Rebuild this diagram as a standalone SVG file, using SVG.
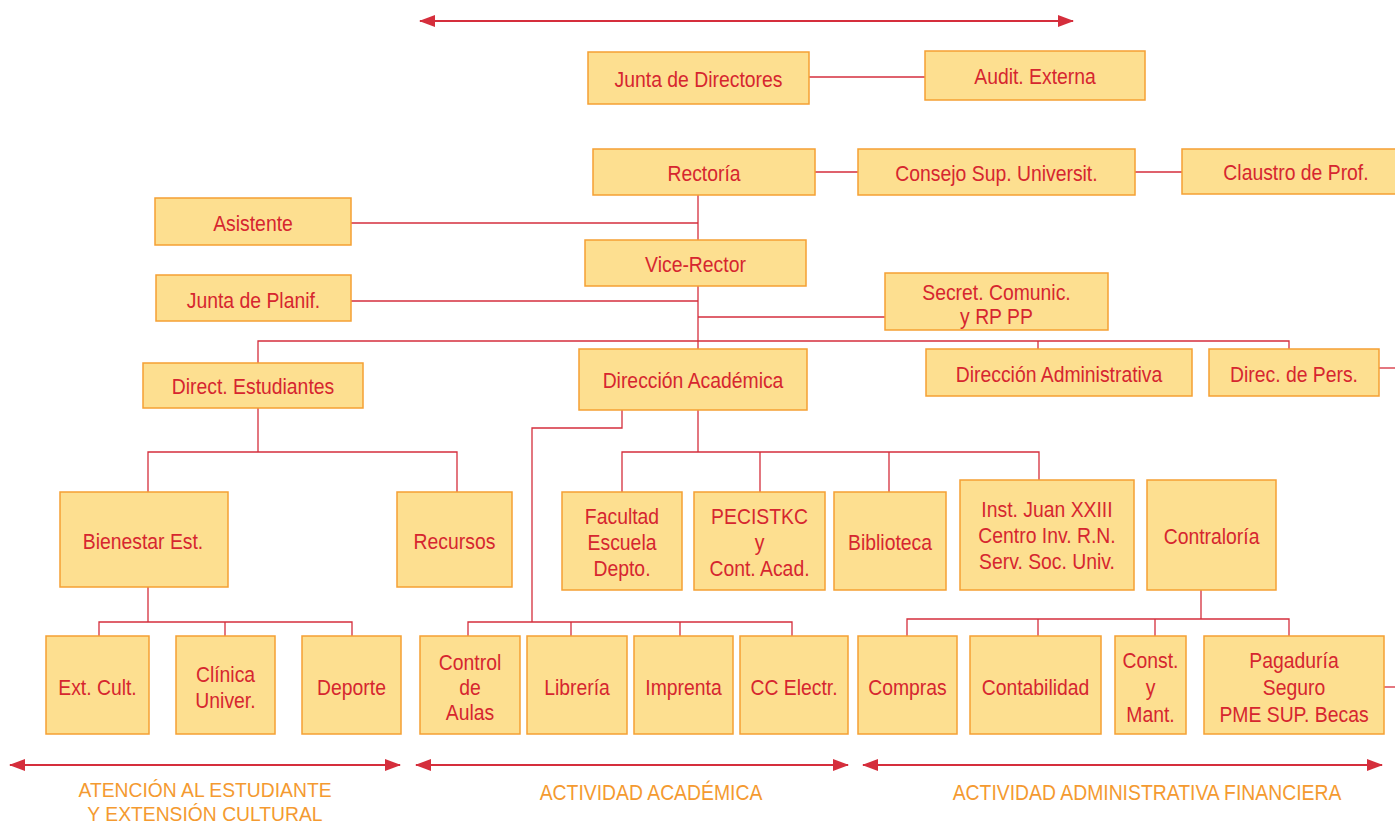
<svg xmlns="http://www.w3.org/2000/svg" width="1395" height="823" viewBox="0 0 1395 823">
<style>
.n rect{fill:#FDDF90;stroke:#F5A033;stroke-width:1.5}
.n text{fill:#D6262F;font-family:"Liberation Sans",Arial,sans-serif;font-size:22px;text-anchor:middle}
.n text,.lbl{transform-box:fill-box;transform-origin:center;transform:scaleX(0.88)}
.c path{fill:none;stroke:#D52E3C;stroke-width:1.3}
.a{stroke:#D52E3C;stroke-width:2;fill:none}
.lbl{fill:#F49A30;font-family:"Liberation Sans",Arial,sans-serif;font-size:22px;text-anchor:middle}
text.lbl2{font-size:21px;transform:scaleX(0.92)}
</style>
<defs>
<marker id="ah" viewBox="0 0 16 12" refX="15" refY="6" markerWidth="16" markerHeight="12" markerUnits="userSpaceOnUse" orient="auto-start-reverse">
<path d="M0,0 L16,6 L0,12 Z" fill="#D52E3C"/>
</marker>
</defs>
<rect width="1395" height="823" fill="#fff"/>
<g id="connectors" class="c">
<path d="M809,77 H925"/>
<path d="M815,172 H858 M1135,172 H1182"/>
<path d="M698,195 V240"/>
<path d="M351,223 H698"/>
<path d="M698,286 V349"/>
<path d="M351,301 H698"/>
<path d="M698,317 H885"/>
<path d="M258,363 V341 H1289 V349 M1038,341 V349"/>
<path d="M1379,368 H1395"/>
<path d="M258,408 V452 M148,492 V452 H457 V492"/>
<path d="M148,587 V622 M99,636 V622 H352 V636 M225,622 V636"/>
<path d="M622,410 V428 H532 V622 M468,636 V622 H792 V636 M571,622 V636 M680,622 V636"/>
<path d="M698,410 V452 M622,492 V452 H1039 V480 M760,452 V492 M889,452 V492"/>
<path d="M1201,590 V619 M907,636 V619 H1289 V636 M1038,619 V636 M1155,619 V636"/>
<path d="M1384,687 H1395"/>
</g>
<g id="arrows">
<path class="a" d="M420,21 H1073" marker-start="url(#ah)" marker-end="url(#ah)"/>
<path class="a" d="M10,765 H400" marker-start="url(#ah)" marker-end="url(#ah)"/>
<path class="a" d="M416,765 H848" marker-start="url(#ah)" marker-end="url(#ah)"/>
<path class="a" d="M863,765 H1382" marker-start="url(#ah)" marker-end="url(#ah)"/>
</g>
<g id="n-junta" class="n"><rect x="588" y="52" width="221" height="52"/><text x="698.5" y="87">Junta de Directores</text></g>
<g id="n-audit" class="n"><rect x="925" y="51" width="220" height="49"/><text x="1035" y="84">Audit. Externa</text></g>
<g id="n-rectoria" class="n"><rect x="593" y="149" width="222" height="46"/><text x="704" y="181">Rectoría</text></g>
<g id="n-consejo" class="n"><rect x="858" y="149" width="277" height="46"/><text x="996.5" y="181">Consejo Sup. Universit.</text></g>
<g id="n-claustro" class="n"><rect x="1182" y="149" width="220" height="45"/><text x="1296" y="180">Claustro de Prof.</text></g>
<g id="n-asistente" class="n"><rect x="155" y="198" width="196" height="47"/><text x="253" y="231">Asistente</text></g>
<g id="n-vicerector" class="n"><rect x="585" y="240" width="221" height="46"/><text x="695.5" y="272">Vice-Rector</text></g>
<g id="n-planif" class="n"><rect x="156" y="275" width="195" height="46"/><text x="253.5" y="308">Junta de Planif.</text></g>
<g id="n-secret" class="n"><rect x="885" y="273" width="223" height="57"/><text x="996.5" y="300">Secret. Comunic.</text><text x="996.5" y="324">y RP PP</text></g>
<g id="n-estud" class="n"><rect x="143" y="363" width="220" height="45"/><text x="253" y="394">Direct. Estudiantes</text></g>
<g id="n-acad" class="n"><rect x="579" y="349" width="228" height="61"/><text x="693" y="388">Dirección Académica</text></g>
<g id="n-admin" class="n"><rect x="926" y="349" width="266" height="47"/><text x="1059" y="382">Dirección Administrativa</text></g>
<g id="n-pers" class="n"><rect x="1209" y="349" width="170" height="47"/><text x="1294" y="382">Direc. de Pers.</text></g>
<g id="n-bienestar" class="n"><rect x="60" y="492" width="168" height="95"/><text x="143" y="549">Bienestar Est.</text></g>
<g id="n-recursos" class="n"><rect x="397" y="492" width="115" height="95"/><text x="454.5" y="549">Recursos</text></g>
<g id="n-facultad" class="n"><rect x="562" y="492" width="120" height="98"/><text x="622" y="524">Facultad</text><text x="622" y="550">Escuela</text><text x="622" y="576">Depto.</text></g>
<g id="n-pecis" class="n"><rect x="694" y="492" width="131" height="98"/><text x="759.5" y="524">PECISTKC</text><text x="759.5" y="550">y</text><text x="759.5" y="576">Cont. Acad.</text></g>
<g id="n-biblio" class="n"><rect x="834" y="492" width="112" height="98"/><text x="890" y="550">Biblioteca</text></g>
<g id="n-inst" class="n"><rect x="960" y="480" width="174" height="110"/><text x="1047" y="517">Inst. Juan XXIII</text><text x="1047" y="543">Centro Inv. R.N.</text><text x="1047" y="569">Serv. Soc. Univ.</text></g>
<g id="n-contra" class="n"><rect x="1147" y="480" width="129" height="110"/><text x="1211.5" y="544">Contraloría</text></g>
<g id="n-extcult" class="n"><rect x="46" y="636" width="103" height="98"/><text x="97.5" y="695">Ext. Cult.</text></g>
<g id="n-clinica" class="n"><rect x="176" y="636" width="99" height="98"/><text x="225.5" y="682">Clínica</text><text x="225.5" y="708">Univer.</text></g>
<g id="n-deporte" class="n"><rect x="302" y="636" width="99" height="98"/><text x="351.5" y="695">Deporte</text></g>
<g id="n-control" class="n"><rect x="420" y="636" width="100" height="98"/><text x="470" y="670">Control</text><text x="470" y="695">de</text><text x="470" y="720">Aulas</text></g>
<g id="n-libreria" class="n"><rect x="527" y="636" width="100" height="98"/><text x="577" y="695">Librería</text></g>
<g id="n-imprenta" class="n"><rect x="634" y="636" width="99" height="98"/><text x="683.5" y="695">Imprenta</text></g>
<g id="n-cc" class="n"><rect x="740" y="636" width="108" height="98"/><text x="794" y="695">CC Electr.</text></g>
<g id="n-compras" class="n"><rect x="858" y="636" width="99" height="98"/><text x="907.5" y="695">Compras</text></g>
<g id="n-contab" class="n"><rect x="970" y="636" width="131" height="98"/><text x="1035.5" y="695">Contabilidad</text></g>
<g id="n-const" class="n"><rect x="1115" y="636" width="71" height="98"/><text x="1150.5" y="668">Const.</text><text x="1150.5" y="695">y</text><text x="1150.5" y="722">Mant.</text></g>
<g id="n-pagad" class="n"><rect x="1204" y="636" width="180" height="98"/><text x="1294" y="668">Pagaduría</text><text x="1294" y="695">Seguro</text><text x="1294" y="722">PME SUP. Becas</text></g>
<g id="labels">
<text class="lbl lbl2" x="205" y="797">ATENCIÓN AL ESTUDIANTE</text>
<text class="lbl lbl2" x="205" y="821">Y EXTENSIÓN CULTURAL</text>
<text class="lbl" x="651" y="800">ACTIVIDAD ACADÉMICA</text>
<text class="lbl" x="1147" y="800">ACTIVIDAD ADMINISTRATIVA FINANCIERA</text>
</g>
</svg>
